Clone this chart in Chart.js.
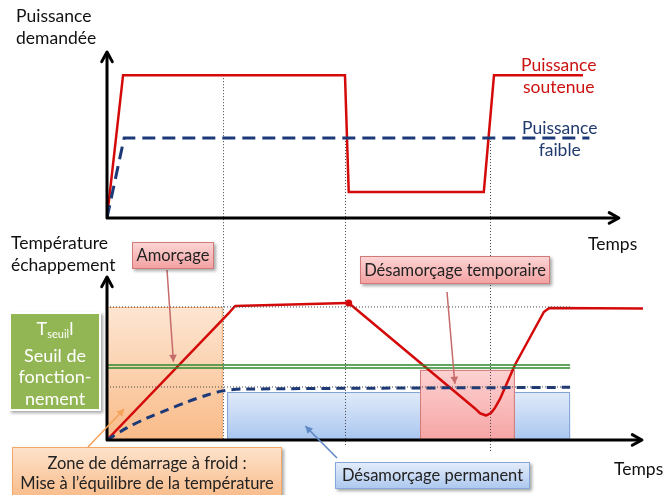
<!DOCTYPE html>
<html>
<head>
<meta charset="utf-8">
<script src="https://cdn.jsdelivr.net/npm/chart.js@4.4.1/dist/chart.umd.min.js"></script>
<style>
  body { margin: 0; background: #fff; font-family: Lato, "Open Sans", sans-serif; }
  #wrap { position: relative; width: 664px; height: 495px; overflow: hidden; }
  canvas { position: absolute; left: 0; top: 0; }
  .t { position: absolute; font-size: 17.5px; line-height: 22px; color: #111; white-space: nowrap; }
  .box { position: absolute; box-sizing: border-box; text-align: center; color: #222;
         font-size: 16.5px; white-space: nowrap; box-shadow: 2px 2px 3px rgba(0,0,0,0.35); }
  .pink { background: linear-gradient(#fcd4d4, #f4a2a2); border: 1px solid #d27a7a; }
  .orange { background: linear-gradient(#fde2cb, #f9bd8c); border: 1px solid #f3a868; }
  .blue { background: linear-gradient(#e3ecfa, #aec9ef); border: 1px solid #86a8d8; }
  .green { background: #93b655; color: #fff; font-size: 18px; line-height: 21.5px; border: 2px solid #fff; }
  sub { font-size: 11px; vertical-align: -3px; }
</style>
</head>
<body>
<div id="wrap">
  <canvas id="diagram" width="664" height="495"></canvas>

  <div class="t" style="left:16px; top:5px;">Puissance<br>demandée</div>
  <div class="t" style="left:521px; top:54px; color:#cc1111; text-align:center;">Puissance<br>soutenue</div>
  <div class="t" style="left:522px; top:117px; color:#1f3a6e; text-align:center;">Puissance<br>faible</div>
  <div class="t" style="left:588px; top:233px;">Temps</div>
  <div class="t" style="left:11px; top:232px;">Température<br>échappement</div>
  <div class="t" style="left:614px; top:458px;">Temps</div>

  <div class="box green" style="left:9px; top:312px; width:92px; height:99px; padding-top:4px;">T<sub>seuil</sub>l<br>Seuil de<br>fonction-<br>nement</div>
  <div class="box pink" style="left:132px; top:242px; width:82px; height:27px; line-height:25px;">Amorçage</div>
  <div class="box pink" style="left:360px; top:256px; width:190px; height:28px; line-height:26px;">Désamorçage temporaire</div>
  <div class="box orange" style="left:12px; top:447px; width:270px; height:50px; line-height:20px; padding-top:5px;">Zone de démarrage à froid :<br>Mise à l’équilibre de la température</div>
  <div class="box blue" style="left:335px; top:462px; width:195px; height:27px; line-height:25px;">Désamorçage permanent</div>
</div>

<script>
// ---- power demand (top graph) ----
const powerHighTime = [0, 3, 44.4, 45.1, 70.3, 72.2, 88.8];
const powerHigh     = [0, 86, 86, 15.7, 15.7, 86, 86];
const powerLowTime  = [0, 3.2, 90];
const powerLow      = [0, 48.2, 48.2];

// ---- exhaust temperature (bottom graph) ----
const tempHighTime = [0, 22.9, 23.9, 44.8, 45.1, 68.6, 69.6, 70.7, 71.6, 72.4, 73.3, 76.1, 81.5, 82.5, 100];
const tempHigh     = [0, 78.5, 82.2, 84, 84, 19.5, 16.4, 15, 16.4, 19.8, 25, 46, 78.5, 81, 80.6];
const tempLowTime  = [0, 3.7, 7.5, 11.2, 14.9, 18.7, 21.6, 25, 86.4];
const tempLow      = [0, 7.4, 13.5, 18.4, 23.3, 27.6, 30.1, 31.2, 32.3];

const thresholdTemps = [46, 44.2];       // T seuil (double green line)
const refTemps = [81.6, 32.5];           // dotted reference levels
const refEnd = 86.4;
const phaseTimes = [21.6, 44.4, 71.5];   // vertical dotted guides
const guideEnds = [0, -4.3, -7.4];

// zones: [start, end, top temperature]
const coldZone = [0, 21.6, 81.6];
const permanentZone = [22.4, 86.4, 29.4];
const temporaryZone = [58.4, 76.1, 43];

const pts = (xs, ys) => xs.map((x, i) => ({ x: x, y: ys[i] }));

function arrowHead(ctx, x1, y1, x2, y2, size, filled) {
  const a = Math.atan2(y2 - y1, x2 - x1);
  ctx.beginPath();
  ctx.moveTo(x2 - size * Math.cos(a - 0.5), y2 - size * Math.sin(a - 0.5));
  ctx.lineTo(x2, y2);
  ctx.lineTo(x2 - size * Math.cos(a + 0.5), y2 - size * Math.sin(a + 0.5));
  if (filled) { ctx.closePath(); ctx.fill(); } else { ctx.stroke(); }
}

function zone(ctx, x, yT, z, top, bottom, border) {
  const l = x.getPixelForValue(z[0]), r = x.getPixelForValue(z[1]);
  const t = yT.getPixelForValue(z[2]), b = yT.getPixelForValue(0);
  const g = ctx.createLinearGradient(0, t, 0, b);
  g.addColorStop(0, top);
  g.addColorStop(1, bottom);
  ctx.fillStyle = g;
  ctx.fillRect(l, t, r - l, b - t);
  ctx.strokeStyle = border;
  ctx.lineWidth = 1;
  ctx.strokeRect(l + 0.5, t + 0.5, r - l - 1, b - t - 1);
}

const diagramPlugin = {
  id: 'diagram',
  beforeDatasetsDraw(chart) {
    const { ctx, scales: { x, yP, yT } } = chart;
    ctx.save();
    zone(ctx, x, yT, coldZone, '#fde6d3', '#f9bb88', '#f2b07a');
    zone(ctx, x, yT, permanentZone, '#e1ebfa', '#a9c6ef', '#7fa3d6');
    zone(ctx, x, yT, temporaryZone, '#fdd2d2', '#f6a4a4', '#d07a7a');

    // vertical phase guides
    ctx.strokeStyle = '#444';
    ctx.lineWidth = 1;
    ctx.setLineDash([1, 2]);
    phaseTimes.forEach((t, i) => {
      const px = Math.round(x.getPixelForValue(t)) + 0.5;
      const startY = i === 0 ? yP.getPixelForValue(powerHigh[1]) : yP.getPixelForValue(powerLow[1]);
      ctx.beginPath();
      ctx.moveTo(px, startY);
      ctx.lineTo(px, yT.getPixelForValue(guideEnds[i]));
      ctx.stroke();
    });
    ctx.restore();
  },
  afterDatasetsDraw(chart) {
    const { ctx, scales: { x, yP, yT } } = chart;
    ctx.save();
    // axes with arrows
    ctx.strokeStyle = '#000';
    ctx.lineWidth = 3;
    ctx.lineCap = 'round';
    ctx.lineJoin = 'round';
    [[yP, 95.5], [yT, 99.8]].forEach(([ys, xEnd]) => {
      const ox = x.getPixelForValue(0), oy = ys.getPixelForValue(0);
      const ex = x.getPixelForValue(xEnd), ey = ys.getPixelForValue(100);
      ctx.beginPath();
      ctx.moveTo(ox, ey + 1); ctx.lineTo(ox, oy); ctx.lineTo(ex - 1, oy);
      ctx.stroke();
      arrowHead(ctx, ox, oy, ex, oy, 11, false);
      arrowHead(ctx, ox, oy, ox, ey, 11, false);
    });

    // annotation arrows: [tail px x, tail px y, tip time, tip temp, colour]
    const notes = [
      [167, 270, 12.4, 48, '#c66a6a'],
      [447, 292, 64.9, 34.5, '#c66a6a'],
      [88, 447, 3.2, 19, '#f5a25a'],
      [337, 458, 37, 8.5, '#5f89c4']
    ];
    ctx.lineWidth = 1.5;
    ctx.lineCap = 'butt';
    notes.forEach(([tx, ty, t, v, c]) => {
      const hx = x.getPixelForValue(t), hy = yT.getPixelForValue(v);
      ctx.strokeStyle = c;
      ctx.fillStyle = c;
      ctx.beginPath();
      ctx.moveTo(tx, ty);
      ctx.lineTo(hx, hy);
      ctx.stroke();
      arrowHead(ctx, tx, ty, hx, hy, 8, true);
    });
    ctx.restore();
  }
};

const dotted = { borderColor: '#444', borderWidth: 1, borderDash: [1, 2], pointRadius: 0 };

new Chart(document.getElementById('diagram'), {
  type: 'scatter',
  data: {
    datasets: [
      ...refTemps.map(v => ({ ...dotted, yAxisID: 'yT', showLine: true,
        data: pts([0, refEnd], [v, v]) })),
      ...thresholdTemps.map(v => ({ yAxisID: 'yT', showLine: true, borderColor: '#2c8a2c',
        borderWidth: 1.5, pointRadius: 0, data: pts([0, refEnd], [v, v]) })),
      { label: 'Puissance faible', yAxisID: 'yP', showLine: true, borderColor: '#1c3a78',
        borderWidth: 3, borderDash: [13, 7], pointRadius: 0, data: pts(powerLowTime, powerLow) },
      { label: 'Puissance soutenue', yAxisID: 'yP', showLine: true, borderColor: '#d40a0a',
        borderWidth: 2.5, pointRadius: 0, data: pts(powerHighTime, powerHigh) },
      { label: 'Température (faible)', yAxisID: 'yT', showLine: true, borderColor: '#1c3a78',
        borderWidth: 3, borderDash: [9, 6], pointRadius: 0, tension: 0.3,
        data: pts(tempLowTime, tempLow) },
      { label: 'Température (soutenue)', yAxisID: 'yT', showLine: true, borderColor: '#d40a0a',
        borderWidth: 2.5, borderJoinStyle: 'round', tension: 0,
        pointRadius: tempHighTime.map((t, i) => i === 4 ? 3.5 : 0),
        pointBackgroundColor: '#d40a0a', pointBorderWidth: 0,
        data: pts(tempHighTime, tempHigh) }
    ]
  },
  options: {
    responsive: false,
    animation: false,
    layout: { padding: { left: 107, right: 21, top: 40, bottom: 35 } },
    scales: {
      x: { type: 'linear', min: 0, max: 100, display: false },
      yP: { type: 'linear', min: -145.8, max: 107.2, display: false },
      yT: { type: 'linear', min: -12.3, max: 245.4, display: false }
    },
    plugins: { legend: { display: false }, tooltip: { enabled: false } }
  },
  plugins: [diagramPlugin]
});
</script>
</body>
</html>
